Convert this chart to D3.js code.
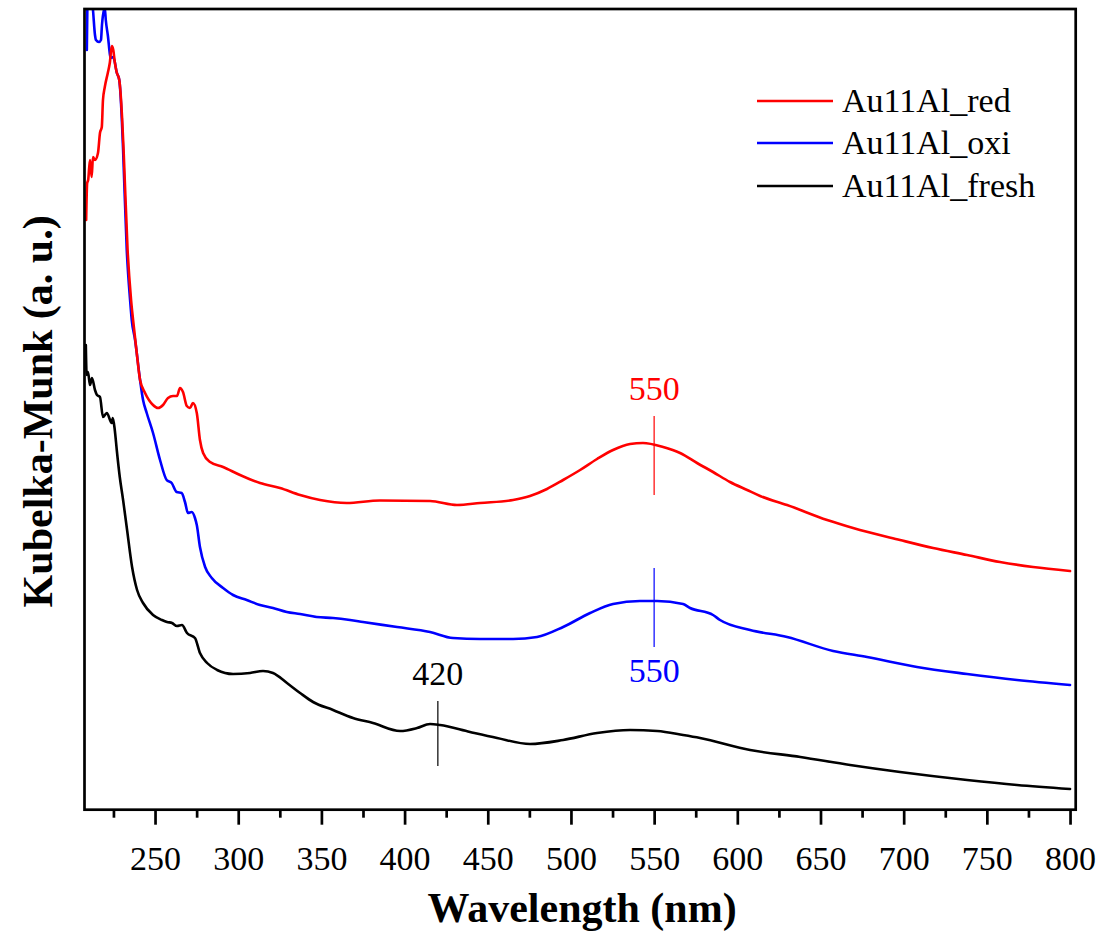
<!DOCTYPE html>
<html>
<head>
<meta charset="utf-8">
<script src="https://cdn.jsdelivr.net/npm/d3@7/dist/d3.min.js"></script>
<style>
  html, body { margin: 0; padding: 0; background: #fff; }
  svg { display: block; font-family: "Liberation Serif", "Times New Roman", serif; }
</style>
</head>
<body>
<svg id="chart" width="1104" height="943"></svg>
<script>
// Diffuse-reflectance UV-vis spectra, Kubelka-Munk units (arbitrary, offset per sample)
// Each series: [wavelength (nm), K-M value]
const redSeries = [
  [208.6,58.9],[209.2,62.6],[209.8,62.9],[210.9,64.9],[211.9,63.2],[212.7,65.2],[213.9,64.9],
  [215.7,65.6],[216.9,67.6],[218.0,68.2],[218.7,70.9],[219.8,72.2],[221.6,73.6],[222.8,74.6],
  [224.0,76.3],[224.9,75.9],[225.8,74.7],[226.9,73.7],[228.5,72.9],[230.2,69.1],[231.1,65.9],
  [233.5,55.9],[235.6,50.9],[236.8,48.9],[239.0,45.6],[241.0,42.9],[244.0,41.6],[248.8,40.4],
  [251.8,40.1],[254.8,40.4],[257.8,41.1],[260.8,41.3],[263.2,41.3],[265.0,42.1],[266.8,41.7],
  [269.1,40.3],[271.0,40.1],[272.8,40.6],[275.1,39.6],[277.0,36.9],[278.9,35.6],[283.1,34.7],
  [290.9,34.2],[301.1,33.4],[313.1,32.6],[325.1,32.1],[337.2,31.4],[349.2,30.9],[365.2,30.6],
  [385.2,30.85],[415.3,30.8],[431.5,30.4],[445.4,30.6],[465.2,30.9],[475.4,31.3],[485.6,32.0],
  [495.3,32.9],[505.5,33.9],[515.7,35.0],[525.3,35.9],[535.5,36.5],[543.3,36.6],[555.4,36.2],
  [565.6,35.6],[575.8,34.6],[585.4,33.7],[595.6,32.7],[605.9,31.9],[613.7,31.3],[629.9,30.4],
  [654.0,28.9],[669.6,28.1],[697.8,26.9],[717.7,26.1],[738.1,25.4],[757.9,24.7],[777.8,24.2],
  [800.0,23.8]
];

const blueSeries = [
  [209.0,75.9],[209.3,79.9],[209.6,81.9],[211.5,81.9],[212.7,79.9],[213.9,77.4],[214.5,76.9],
  [216.3,76.7],[217.5,76.9],[218.1,78.4],[219.3,79.9],[219.8,80.1],[220.4,78.9],[221.6,77.4],
  [223.4,75.1],[224.9,75.2],[225.8,74.7],[226.9,73.7],[228.5,72.9],[230.0,69.1],[230.8,65.9],
  [233.0,55.9],[235.0,50.9],[236.0,48.9],[238.0,46.9],[241.0,42.9],[242.8,40.9],[245.0,39.6],
  [248.8,37.6],[253.0,34.9],[257.0,32.9],[260.0,32.6],[263.0,31.7],[266.0,31.6],[268.0,30.7],
  [269.8,29.6],[272.1,29.7],[274.0,29.1],[275.1,28.4],[277.0,26.2],[280.1,24.2],[284.1,23.1],
  [290.9,22.1],[296.9,21.4],[305.1,20.9],[313.1,20.4],[320.9,20.1],[329.2,19.7],[337.2,19.5],
  [347.2,19.2],[357.0,19.1],[367.2,18.9],[375.0,18.7],[395.5,18.2],[415.3,17.7],[429.1,17.1],
  [445.4,17.0],[465.2,17.0],[479.6,17.2],[495.3,18.2],[511.5,19.6],[525.3,20.5],[541.5,20.8],
  [551.8,20.8],[567.4,20.5],[571.6,20.1],[585.4,19.4],[589.6,18.9],[607.7,17.9],[629.9,17.2],
  [657.6,15.8],[678.0,15.2],[708.0,14.2],[738.1,13.5],[768.1,12.9],[800.0,12.4]
];

const blackSeries = [
  [208.4,46.4],[208.9,43.4],[209.7,43.7],[210.9,42.4],[212.1,43.1],[213.9,41.9],[215.1,41.4],
  [216.9,41.2],[218.7,39.2],[221.0,39.6],[224.0,38.6],[224.6,39.1],[225.8,37.9],[227.0,35.9],
  [228.8,33.2],[230.8,30.9],[233.2,27.9],[236.2,24.2],[239.2,21.9],[242.8,20.6],[248.8,19.4],
  [254.2,18.9],[257.2,18.7],[260.2,18.6],[263.2,18.3],[266.2,18.4],[269.2,17.6],[274.0,17.1],
  [277.0,15.6],[281.3,14.6],[287.3,13.9],[296.9,13.5],[307.1,13.6],[314.9,13.8],[320.9,13.6],
  [329.3,12.6],[337.2,11.6],[345.0,10.7],[357.0,9.9],[369.0,9.1],[381.0,8.6],[397.3,7.8],
  [407.5,8.1],[415.3,8.5],[421.3,8.4],[439.3,7.7],[455.6,7.1],[475.4,6.5],[495.3,6.9],
  [515.7,7.6],[535.5,7.9],[551.8,7.8],[567.4,7.4],[577.6,7.1],[607.7,5.9],[637.9,5.2],
  [667.8,4.4],[697.8,3.7],[738.1,2.9],[768.1,2.4],[800.0,2.0]
];

const seriesNames = ["Au11Al_red", "Au11Al_oxi", "Au11Al_fresh"];
const seriesColors = ["#ff0000", "#0000ff", "#000000"];

// Peak annotations: wavelength, label, colour, line span (K-M units), label side
const peakWavelengths = [550, 550, 420];
const peakLabels = ["550", "550", "420"];
const peakColors = ["#ff0000", "#0000ff", "#000000"];
const peakSpans = [[31.4, 39.3], [16.2, 24.1], [4.3, 10.8]];
const peakLabelSide = ["above", "below", "above"];

const xTicksMajor = [250, 300, 350, 400, 450, 500, 550, 600, 650, 700, 750, 800];
const xTicksMinor = [225, 275, 325, 375, 425, 475, 525, 575, 625, 675, 725, 775];

const xTitle = "Wavelength (nm)";
const yTitle = "Kubelka-Munk (a. u.)";

// ---- layout ----
const plot = { left: 84.5, right: 1075.7, top: 9, bottom: 809.7 };
const labelSize = 34;

const svg = d3.select("#chart");

const x = d3.scaleLinear().domain([207.6, 803.4]).range([plot.left, plot.right]);
const y = d3.scaleLinear().domain([-0.07, 80.0]).range([plot.bottom, plot.top]);

svg.append("defs").append("clipPath").attr("id", "plotclip")
  .append("rect")
  .attr("x", plot.left).attr("y", plot.top)
  .attr("width", plot.right - plot.left).attr("height", plot.bottom - plot.top);

const line = d3.line()
  .curve(d3.curveMonotoneX)
  .x(d => x(d[0])).y(d => y(d[1]));

const curves = svg.append("g").attr("clip-path", "url(#plotclip)");
[[blackSeries, seriesColors[2]], [blueSeries, seriesColors[1]], [redSeries, seriesColors[0]]]
  .forEach(([s, c]) => {
    curves.append("path")
      .datum(s)
      .attr("d", line)
      .attr("fill", "none")
      .attr("stroke", c)
      .attr("stroke-width", 2.6)
      .attr("stroke-linejoin", "round")
      .attr("stroke-linecap", "round");
  });

// Peak markers
peakWavelengths.forEach((w, i) => {
  const px = x(w);
  const [lo, hi] = peakSpans[i];
  svg.append("line")
    .attr("x1", px).attr("x2", px)
    .attr("y1", y(lo)).attr("y2", y(hi))
    .attr("stroke", peakColors[i]).attr("stroke-width", 1.2);
  const ty = peakLabelSide[i] === "above" ? y(hi) - 16 : y(lo) + 35;
  svg.append("text")
    .attr("x", px).attr("y", ty)
    .attr("text-anchor", "middle")
    .attr("font-size", labelSize)
    .attr("fill", peakColors[i])
    .text(peakLabels[i]);
});

// Frame
svg.append("rect")
  .attr("x", plot.left).attr("y", plot.top)
  .attr("width", plot.right - plot.left).attr("height", plot.bottom - plot.top)
  .attr("fill", "none").attr("stroke", "#000").attr("stroke-width", 2.7);

// X axis (outward ticks)
const xAxis = svg.append("g").attr("transform", `translate(0,${plot.bottom})`);
xAxis.call(d3.axisBottom(x).tickValues(xTicksMajor).tickSize(15).tickPadding(21).tickFormat(d3.format("d")))
  .call(g => g.select(".domain").remove())
  .call(g => g.selectAll(".tick line").attr("stroke", "#000").attr("stroke-width", 2.7))
  .call(g => g.selectAll(".tick text")
    .attr("font-size", labelSize).attr("fill", "#000")
    .attr("font-family", "'Liberation Serif', 'Times New Roman', serif"));

const xMinor = svg.append("g").attr("transform", `translate(0,${plot.bottom})`);
xMinor.call(d3.axisBottom(x).tickValues(xTicksMinor).tickSize(8).tickFormat(""))
  .call(g => g.select(".domain").remove())
  .call(g => g.selectAll(".tick line").attr("stroke", "#000").attr("stroke-width", 2.7));

// Axis titles
svg.append("text")
  .attr("x", (plot.left + plot.right) / 2 + 2).attr("y", 922)
  .attr("text-anchor", "middle")
  .attr("font-size", 42).attr("font-weight", "bold")
  .text(xTitle);

svg.append("text")
  .attr("transform", `translate(52,${(plot.top + plot.bottom) / 2 + 2}) rotate(-90)`)
  .attr("text-anchor", "middle")
  .attr("font-size", 42).attr("font-weight", "bold")
  .text(yTitle);

// Legend
const legend = svg.append("g");
const legendX1 = 757, legendX2 = 833;
const legendYs = [101, 143, 186];
seriesNames.forEach((name, i) => {
  legend.append("line")
    .attr("x1", legendX1).attr("x2", legendX2)
    .attr("y1", legendYs[i]).attr("y2", legendYs[i])
    .attr("stroke", seriesColors[i]).attr("stroke-width", 2.6);
  legend.append("text")
    .attr("x", 842).attr("y", legendYs[i] + 11)
    .attr("font-size", labelSize).attr("fill", "#000")
    .text(name);
});
</script>
</body>
</html>
